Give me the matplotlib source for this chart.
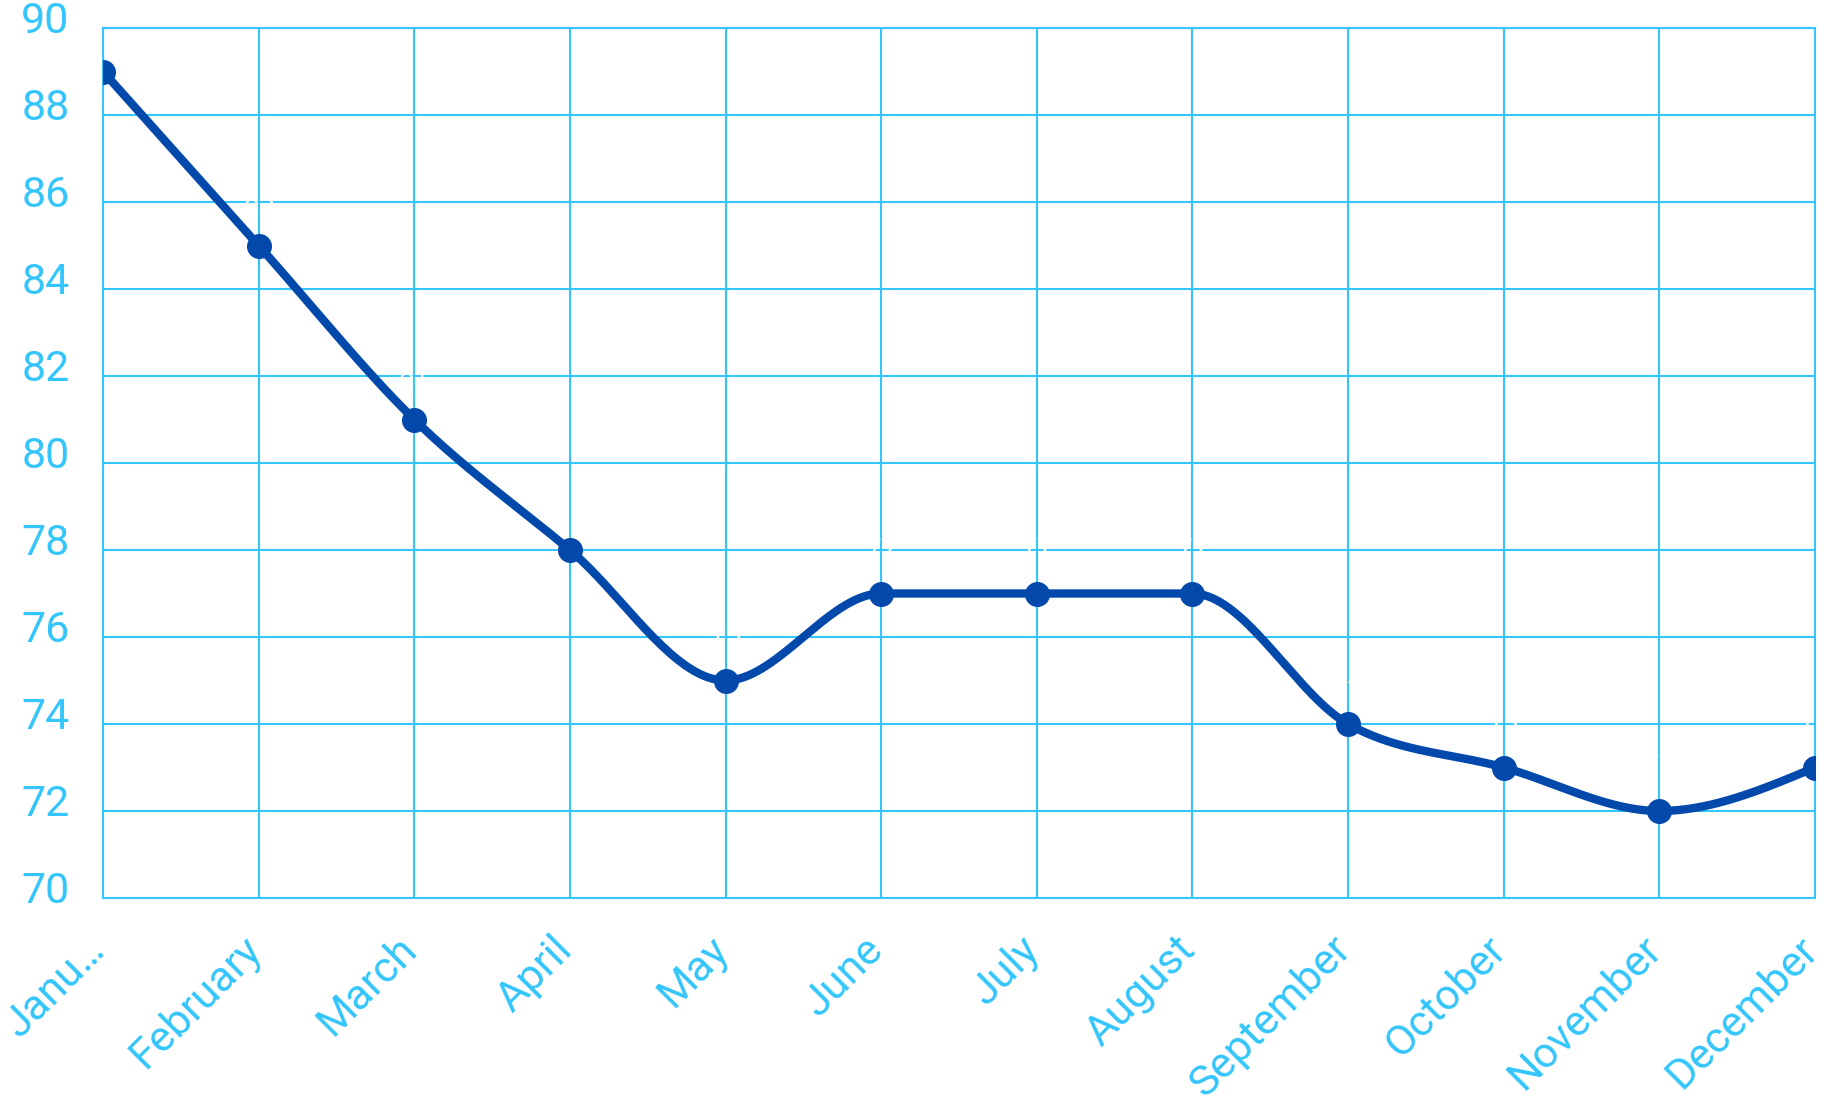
"""Monthly values line chart with monotone smoothing on a light-blue grid."""

import matplotlib

matplotlib.use("Agg")

import matplotlib.pyplot as plt
import matplotlib.transforms as mtransforms
import numpy as np

months = ["January", "February", "March", "April", "May", "June", "July",
          "August", "September", "October", "November", "December"]
tick_labels = ["Janu…"] + months[1:]
values = [89, 85, 81, 78, 75, 77, 77, 77, 74, 73, 72, 73]
y_ticks = [70, 72, 74, 76, 78, 80, 82, 84, 86, 88, 90]

GRID = "#33c5fb"
LINE = "#0349ab"


def monotone_x(x, y, n=40):
    # d3 curveMonotoneX style path through the data points
    x = np.asarray(x, float)
    y = np.asarray(y, float)
    h = np.diff(x)
    s = np.diff(y) / h
    m = np.zeros_like(y)
    for i in range(1, len(y) - 1):
        s0, s1 = s[i - 1], s[i]
        p = (s0 * h[i] + s1 * h[i - 1]) / (h[i - 1] + h[i])
        m[i] = (np.sign(s0) + np.sign(s1)) * min(abs(s0), abs(s1), 0.5 * abs(p))
    m[0] = (3 * s[0] - m[1]) / 2
    m[-1] = (3 * s[-1] - m[-2]) / 2
    xs, ys = [], []
    for i in range(len(h)):
        t = np.linspace(0, 1, n)
        h00 = 2 * t**3 - 3 * t**2 + 1
        h10 = t**3 - 2 * t**2 + t
        h01 = -2 * t**3 + 3 * t**2
        h11 = t**3 - t**2
        xs.append(x[i] + t * h[i])
        ys.append(h00 * y[i] + h10 * h[i] * m[i] + h01 * y[i + 1] + h11 * h[i] * m[i + 1])
    return np.concatenate(xs), np.concatenate(ys)


def main() -> None:
    plt.rcParams["font.family"] = ["Roboto", "DejaVu Sans"]
    fig = plt.figure(figsize=(18.35, 11.16), dpi=100)
    ax = fig.add_axes([103 / 1835, 1 - 898 / 1116, (1815 - 103) / 1835, (898 - 28) / 1116])

    x = np.arange(len(values))
    xs, ys = monotone_x(x, values)
    ax.plot(xs, ys, color=LINE, lw=6, solid_capstyle="round", zorder=3)
    ax.plot(x, values, "o", color=LINE, ms=17, zorder=4)

    for i, v in enumerate(values):
        dy = -0.8 if i == 0 else 1.0
        dx = 0.08 if i == 0 else 0
        ax.text(i + dx, v + dy, str(v), color="white", fontsize=20,
                ha="center", va="center", zorder=2)

    ax.set_xlim(0, len(values) - 1)
    ax.set_ylim(70, 90)
    ax.set_xticks(x)
    ax.set_yticks(y_ticks)
    ax.set_xticklabels(tick_labels, rotation=45, ha="right", va="top",
                       rotation_mode="anchor")
    ax.grid(True, color=GRID, lw=1.5, zorder=0)
    ax.set_axisbelow(True)
    for sp in ax.spines.values():
        sp.set_color(GRID)
        sp.set_linewidth(1.5)
    ax.tick_params(axis="both", length=0, colors=GRID, labelsize=31)
    ax.tick_params(axis="x", pad=22)
    ax.tick_params(axis="y", pad=24)

    off = mtransforms.ScaledTranslation(0, 11 / 100, fig.dpi_scale_trans)
    for lab in ax.get_yticklabels():
        lab.set_transform(lab.get_transform() + off)
    offx = mtransforms.ScaledTranslation(-18 / 100, 0, fig.dpi_scale_trans)
    for lab in ax.get_xticklabels():
        lab.set_transform(lab.get_transform() + offx)

    fig.savefig("out.png", dpi=100, facecolor="white")
    plt.close(fig)


if __name__ == "__main__":
    main()
